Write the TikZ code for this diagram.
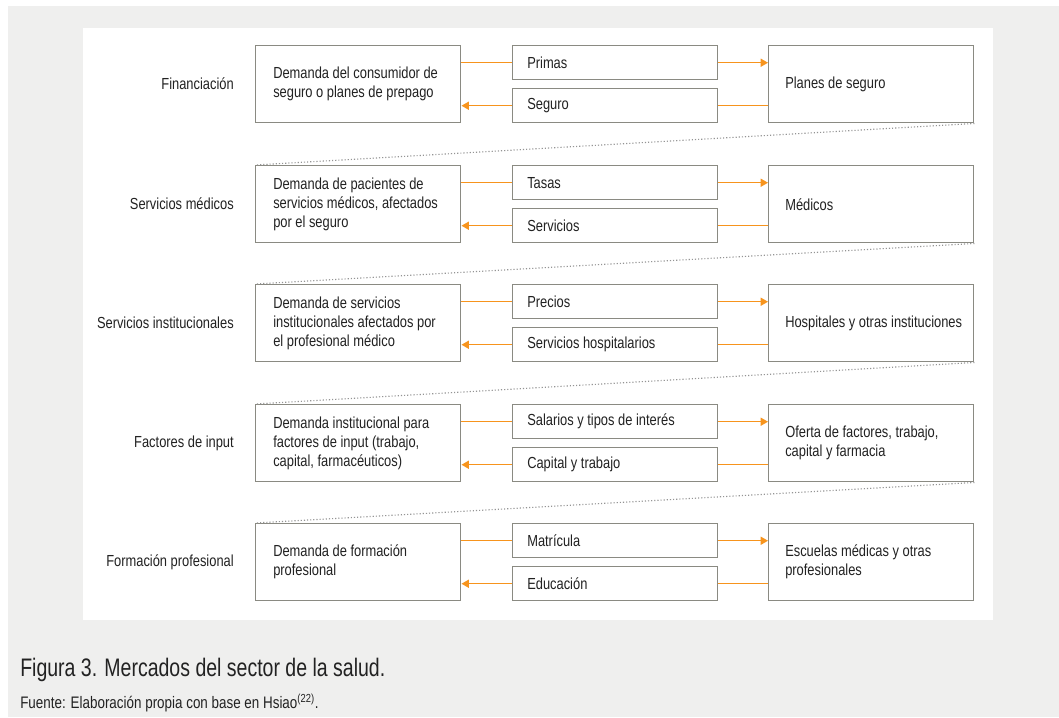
\documentclass[tikz,border=0pt]{standalone}
\usepackage{fontspec}
\setmainfont[FakeStretch=0.805]{Liberation Sans}
\newfontfamily\capfont[FakeStretch=0.77]{Liberation Sans}
\usetikzlibrary{arrows.meta}
\definecolor{bgray}{HTML}{EFEFEE}
\definecolor{boxline}{HTML}{8A8A82}
\definecolor{txt}{HTML}{222222}
\definecolor{org}{HTML}{F7941D}
\definecolor{dotc}{HTML}{949494}
\tikzset{
  bigbox/.style={draw=boxline, line width=1.1pt, minimum width=153.75pt, minimum height=57.75pt, inner sep=0pt, anchor=north west},
  smallbox/.style={draw=boxline, line width=1.1pt, minimum width=153.75pt, minimum height=25.5pt, inner sep=0pt, anchor=north west},
  btext/.style={anchor=west, align=left, inner sep=0pt, text=txt, font=\fontsize{12}{14.25}\selectfont},
  lbl/.style={anchor=east, inner sep=0pt, text=txt, font=\fontsize{12}{14.25}\selectfont},
  flow/.style={draw=org, line width=1.1pt},
  flowarrow/.style={draw=org, line width=1.1pt, -{Triangle[length=5.5pt,width=6pt]}},
  dotline/.style={draw=dotc, line width=0.85pt, dash pattern=on 0.85pt off 1.5pt}
}
\newcommand\marketrow[7]{%
  \node[bigbox] (L#1) at (255,#2) {};
  \node[btext] (Lt#1) at ([xshift=13.5pt]L#1.west) {#4};
  \node[smallbox] (A#1) at (512,#2) {};
  \node[btext] (At#1) at ([xshift=11.25pt]A#1.west) {#5};
  \node[smallbox] (B#1) at (512,#2+43) {};
  \node[btext] (Bt#1) at ([xshift=11.25pt]B#1.west) {#6};
  \node[bigbox] (R#1) at (768,#2) {};
  \node[btext] (Rt#1) at ([xshift=12.75pt]R#1.west) {#7};
  \node[lbl] (N#1) at (234,#2+39) {#3};
  \draw[flow] (L#1.east |- A#1.west) -- (A#1.west);
  \draw[flowarrow] (A#1.east) -- (R#1.west |- A#1.east);
  \draw[flow] (R#1.west |- B#1.east) -- (B#1.east);
  \draw[flowarrow] (B#1.west) -- (L#1.east |- B#1.west);
}
\begin{document}
\begin{tikzpicture}[x=0.75pt,y=-0.75pt]
\useasboundingbox (0,0) rectangle (1059,717);
\fill[white] (0,0) rectangle (1059,717);
\fill[bgray] (8,6) rectangle (1059,717);
\fill[white] (83,28) rectangle (993,620);

\marketrow{1}{45}{Financiación}{Demanda del consumidor de\\seguro o planes de prepago}{Primas}{Seguro}{Planes de seguro}
\marketrow{2}{165}{Servicios médicos}{Demanda de pacientes de\\servicios médicos, afectados\\por el seguro}{Tasas}{Servicios}{Médicos}
\marketrow{3}{284}{Servicios institucionales}{Demanda de servicios\\institucionales afectados por\\el profesional médico}{Precios}{Servicios hospitalarios}{Hospitales y otras instituciones}
\marketrow{4}{404}{Factores de input}{Demanda institucional para\\factores de input (trabajo,\\capital, farmacéuticos)}{Salarios y tipos de interés}{Capital y trabajo}{Oferta de factores, trabajo,\\capital y farmacia}
\marketrow{5}{523}{Formación profesional}{Demanda de formación\\profesional}{Matrícula}{Educación}{Escuelas médicas y otras\\profesionales}

\draw[dotline] (R1.south east) -- (L2.north west);
\draw[dotline] (R2.south east) -- (L3.north west);
\draw[dotline] (R3.south east) -- (L4.north west);
\draw[dotline] (R4.south east) -- (L5.north west);

\node[anchor=base west, inner sep=0pt, text=txt, font=\capfont\fontsize{19}{21}\selectfont] (cap) at (20,676) {Figura 3. Mercados del sector de la salud.};
\node[anchor=base west, inner sep=0pt, text=txt, font=\fontsize{12.5}{14}\selectfont] (src) at (20,708) {Fuente: Elaboración propia con base en Hsiao\textsuperscript{(22)}.};
\end{tikzpicture}
\end{document}
